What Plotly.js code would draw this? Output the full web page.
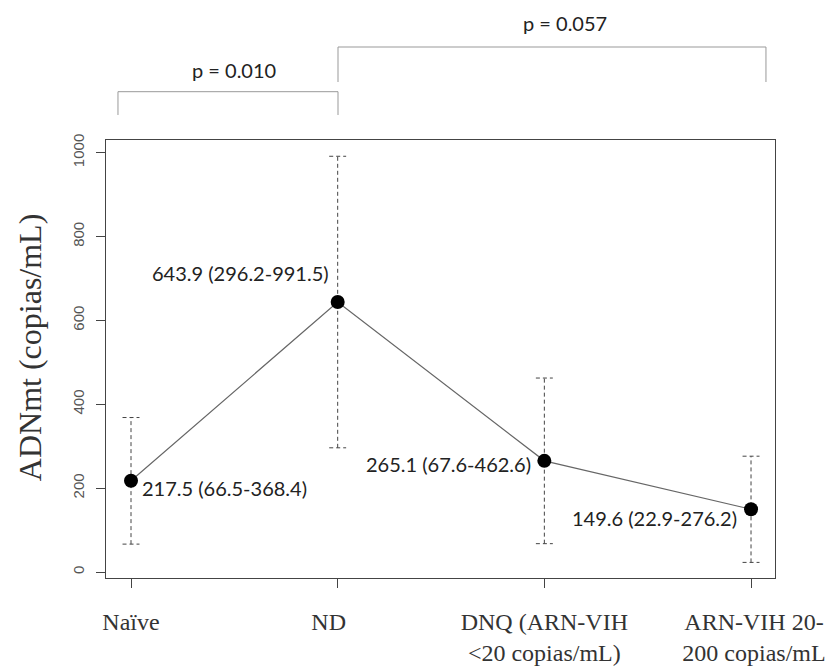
<!DOCTYPE html>
<html>
<head>
<meta charset="utf-8">
<script src="https://cdn.plot.ly/plotly-3.0.1.min.js"></script>
<style>html,body{margin:0;padding:0;background:#fff;}#chart{width:827px;height:666px;}</style>
</head>
<body>
<div id="chart"></div>
<script>
// ---- data ----
const categories = ["Naïve", "ND", "DNQ (ARN-VIH <20 copias/mL)", "ARN-VIH 20-200 copias/mL"];
const tickLabels = ["Naïve", "ND&nbsp;&nbsp;&nbsp;", "DNQ (ARN-VIH<br><20 copias/mL)",
  "&nbsp;ARN-VIH 20-<br>&nbsp;200 copias/mL"];
const medians = [217.5, 643.9, 265.1, 149.6];
const lower = [66.5, 296.2, 67.6, 22.9];
const upper = [368.4, 991.5, 462.6, 276.2];
const pointLabels = ["217.5 (66.5-368.4)", "643.9 (296.2-991.5)", "265.1 (67.6-462.6)", "149.6 (22.9-276.2)"];
const yTicks = [0, 200, 400, 600, 800, 1000];
const pValues = ["p = 0.010", "p = 0.057"];
const yTitle = "ADNmt (copias/mL)";

// ---- build ----
const xs = categories.map((c, i) => i + 1);
const capHalf = 0.041;

const ebX = [], ebY = [];
xs.forEach((x, i) => {
  ebX.push(x, x, null);
  ebY.push(lower[i], upper[i], null);
  ebX.push(x - capHalf, x + capHalf, null);
  ebY.push(upper[i], upper[i], null);
  ebX.push(x - capHalf, x + capHalf, null);
  ebY.push(lower[i], lower[i], null);
});

const traces = [
  {
    x: ebX, y: ebY, mode: "lines", type: "scatter",
    line: {color: "#444", width: 1, dash: "4px,3px"},
    hoverinfo: "skip", showlegend: false
  },
  {
    x: xs, y: medians, mode: "lines", type: "scatter",
    line: {color: "#666", width: 1.2},
    hoverinfo: "skip", showlegend: false
  },
  {
    x: xs, y: medians, mode: "markers", type: "scatter",
    marker: {color: "#000", size: 14},
    showlegend: false
  }
];

const labelFont = {family: "Lato, 'Open Sans', sans-serif", size: 20, color: "#222"};
const labelCfg = [
  {xanchor: "left", xshift: 9, yshift: -7},
  {xanchor: "right", xshift: -7, yshift: 29},
  {xanchor: "right", xshift: -11, yshift: -3},
  {xanchor: "right", xshift: -12, yshift: -9}
];
const annotations = xs.map((x, i) => Object.assign({
  x: x, y: medians[i], xref: "x", yref: "y", text: pointLabels[i],
  showarrow: false, font: labelFont, yanchor: "middle"
}, labelCfg[i]));

annotations.push(
  {x: 0.1913, y: 1.1598, xref: "paper", yref: "paper", text: pValues[0], showarrow: false,
   font: labelFont, xanchor: "center", yanchor: "middle"},
  {x: 0.686, y: 1.267, xref: "paper", yref: "paper", text: pValues[1], showarrow: false,
   font: labelFont, xanchor: "center", yanchor: "middle"},
  {x: -0.1136, y: 0.527, xref: "paper", yref: "paper", text: yTitle, showarrow: false,
   textangle: -90, xanchor: "center", yanchor: "middle",
   font: {family: "'Liberation Serif', 'Times New Roman', serif", size: 32, color: "#333"}}
);

const bc = {color: "#999", width: 1};
const shapes = [
  // bracket 1 (Naïve - ND)
  {type: "line", xref: "paper", yref: "paper", x0: 0.0179, x1: 0.3468, y0: 1.1103, y1: 1.1103, line: bc},
  {type: "line", xref: "paper", yref: "paper", x0: 0.0179, x1: 0.0179, y0: 1.1103, y1: 1.0571, line: bc},
  {type: "line", xref: "paper", yref: "paper", x0: 0.3468, x1: 0.3468, y0: 1.1103, y1: 1.0571, line: bc},
  // bracket 2 (ND - rest)
  {type: "line", xref: "paper", yref: "paper", x0: 0.3468, x1: 0.9865, y0: 1.2123, y1: 1.2123, line: bc},
  {type: "line", xref: "paper", yref: "paper", x0: 0.3468, x1: 0.3468, y0: 1.2123, y1: 1.1324, line: bc},
  {type: "line", xref: "paper", yref: "paper", x0: 0.9865, x1: 0.9865, y0: 1.2123, y1: 1.1324, line: bc}
];

const layout = {
  width: 827, height: 666,
  margin: {l: 106, r: 52, t: 140, b: 88, pad: 0},
  paper_bgcolor: "#fff", plot_bgcolor: "#fff",
  showlegend: false,
  xaxis: {
    range: [0.879, 4.116], tickvals: xs, ticktext: tickLabels,
    showgrid: false, zeroline: false,
    showline: true, mirror: true, linecolor: "#444", linewidth: 1,
    ticks: "outside", ticklen: 9, tickcolor: "#444", tickwidth: 1,
    ticklabelstandoff: 13, ticklabeloverflow: "allow",
    tickfont: {family: "'Liberation Serif', 'Times New Roman', serif", size: 24, color: "#333"},
    automargin: false
  },
  yaxis: {
    range: [-14.3, 1030.3], tickvals: yTicks, ticktext: yTicks.map(String),
    showgrid: false, zeroline: false,
    showline: true, mirror: true, linecolor: "#444", linewidth: 1,
    ticks: "outside", ticklen: 9, tickcolor: "#444", tickwidth: 1,
    tickangle: -90, ticklabelstandoff: 6,
    tickfont: {family: "'Liberation Sans', Arial, sans-serif", size: 15, color: "#555"},
    automargin: false
  },
  annotations: annotations,
  shapes: shapes
};

Plotly.newPlot("chart", traces, layout, {staticPlot: true, displayModeBar: false});
</script>
</body>
</html>
